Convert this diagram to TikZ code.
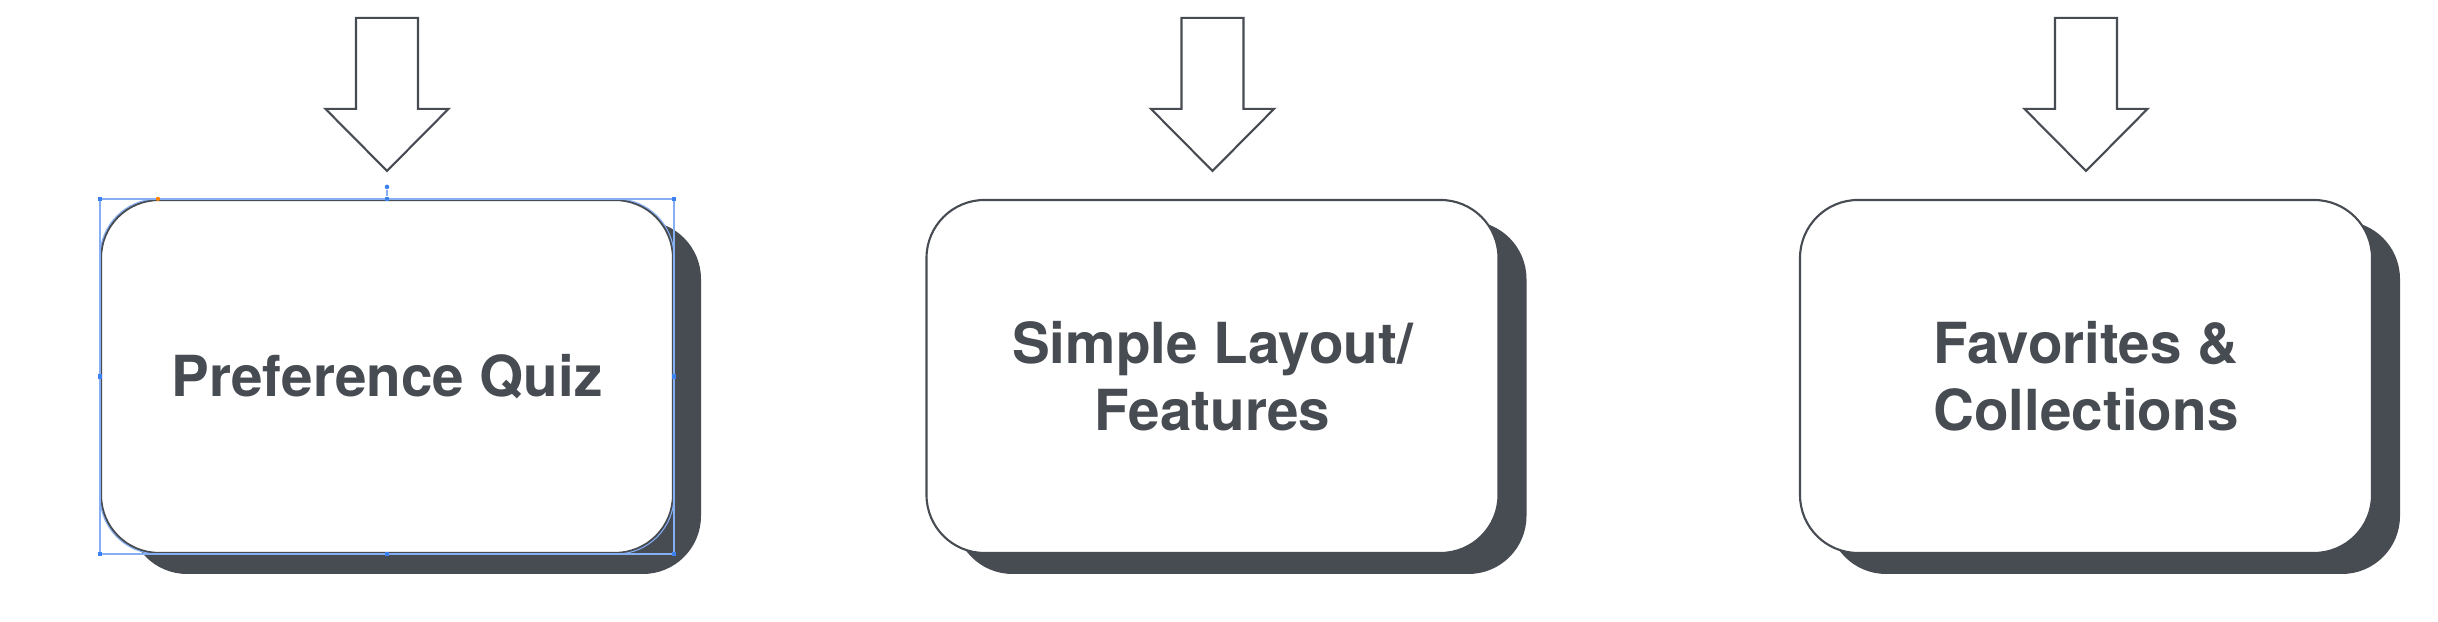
\documentclass[tikz,border=0pt]{standalone}
\usepackage{fontspec}
\setmainfont{TeX Gyre Heros}
\usetikzlibrary{shadows}

\definecolor{slate}{HTML}{474B52}
\definecolor{handleblue}{HTML}{3B82F0}
\definecolor{selblue}{HTML}{86AEF3}

\begin{document}
\begin{tikzpicture}[
  card/.style={draw=slate, line width=0.6pt, fill=white, rounded corners=0.58cm,
    minimum width=5.72cm, minimum height=3.53cm, align=center, text=slate,
    font=\bfseries\fontsize{16.1}{19}\selectfont,
    drop shadow={shadow xshift=0.28cm, shadow yshift=-0.21cm, fill=slate, opacity=1}},
  downarrow/.style={draw=slate, line width=0.6pt, fill=white, line join=miter},
  handle/.style={fill=handleblue, minimum size=1.3pt, inner sep=0pt}
]
\useasboundingbox (0,0) rectangle (24.38,6.22);

% Cards
\node[card] (quiz) at (3.87,2.455) {Preference Quiz};
\node[card] (layout) at (12.125,2.455) {Simple Layout/\\Features};
\node[card] (favs) at (20.86,2.455) {Favorites \&\\Collections};

% Block arrows pointing down at each card
\coordinate (quiztip) at ([yshift=0.28cm]quiz.north);
\coordinate (layouttip) at ([yshift=0.28cm]layout.north);
\coordinate (favstip) at ([yshift=0.28cm]favs.north);
\draw[downarrow] (quiztip) -- ++(-0.615,0.62) -- ++(0.305,0) -- ++(0,0.91) -- ++(0.62,0) -- ++(0,-0.91) -- ++(0.305,0) -- cycle;
\draw[downarrow] (layouttip) -- ++(-0.615,0.62) -- ++(0.305,0) -- ++(0,0.91) -- ++(0.62,0) -- ++(0,-0.91) -- ++(0.305,0) -- cycle;
\draw[downarrow] (favstip) -- ++(-0.615,0.62) -- ++(0.305,0) -- ++(0,0.91) -- ++(0.62,0) -- ++(0,-0.91) -- ++(0.305,0) -- cycle;

% Selection frame on the first card
\draw[selblue, line width=0.4pt] (quiz.north west) rectangle (quiz.south east);
\draw[selblue, line width=0.3pt, rounded corners=0.58cm] (quiz.north west) rectangle (quiz.south east);
\foreach \a/\n in {north west/nw, north/n, north east/ne, west/w, east/e, south west/sw, south/s, south east/se}
  \node[handle] (sel-\n) at (quiz.\a) {};
\node[handle, circle] (sel-rot) at ([yshift=0.12cm]quiz.north) {};
\draw[selblue, line width=0.4pt] (sel-rot) -- (sel-n);
\node[fill=orange, circle, minimum size=1.2pt, inner sep=0pt] (sel-rad) at ([xshift=0.58cm]quiz.north west) {};
\end{tikzpicture}
\end{document}
